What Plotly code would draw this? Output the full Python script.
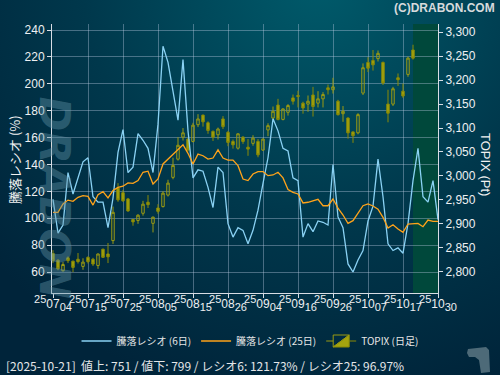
import base64
import plotly.graph_objects as go

# ---------------- data ----------------
tick_index = [0, 7, 14, 21, 28, 35, 42, 49, 56, 63, 70, 77]
tick_labels = ["250704", "250715", "250725", "250805", "250815", "250826",
               "250904", "250916", "250926", "251007", "251017", "251030"]

topix_open = [2838, 2824, 2802, 2829, 2822, 2826, 2811, 2830, 2826, 2813,
              2847, 2837, 2865, 2975, 2965, 2952, 2909, 2907, 2922, 2945,
              2901, 2933, 2936, 2960, 2997, 3035, 3081, 3077, 3072, 3107,
              3127, 3111, 3093, 3086, 3119, 3091, 3072, 3058, 3081, 3060,
              3068, 3072, 3054, 3096, 3121, 3148, 3118, 3133, 3163, 3168,
              3152, 3150, 3169, 3152, 3161, 3184, 3180, 3156, 3130, 3121,
              3092, 3090, 3173, 3237, 3241, 3245, 3237, 3150, 3150, 3205,
              3177, 3212, 3263]
topix_high = [2845, 2826, 2820, 2832, 2823, 2839, 2828, 2832, 2829, 2838,
              2848, 2860, 2936, 2985, 2971, 2954, 2910, 2920, 2948, 2960,
              2915, 2941, 2968, 2992, 3038, 3081, 3100, 3080, 3111, 3129,
              3128, 3114, 3095, 3101, 3125, 3094, 3076, 3089, 3083, 3077,
              3085, 3077, 3078, 3110, 3145, 3161, 3141, 3150, 3170, 3178,
              3155, 3168, 3186, 3177, 3175, 3191, 3205, 3159, 3146, 3122,
              3093, 3131, 3235, 3248, 3263, 3262, 3239, 3180, 3186, 3214,
              3193, 3249, 3274]
topix_low = [2818, 2803, 2800, 2818, 2799, 2817, 2804, 2817, 2812, 2806,
             2829, 2818, 2858, 2946, 2946, 2925, 2896, 2900, 2917, 2933,
             2882, 2921, 2934, 2957, 2993, 3032, 3074, 3051, 3070, 3102,
             3103, 3088, 3073, 3076, 3098, 3062, 3057, 3055, 3067, 3042,
             3063, 3039, 3052, 3083, 3117, 3116, 3116, 3126, 3149, 3143,
             3130, 3134, 3124, 3143, 3143, 3170, 3172, 3126, 3113, 3078,
             3069, 3087, 3169, 3217, 3220, 3239, 3190, 3112, 3146, 3188,
             3163, 3207, 3243]
topix_close = [2823, 2806, 2815, 2823, 2809, 2821, 2820, 2821, 2816, 2837,
               2830, 2831, 2924, 2950, 2948, 2927, 2904, 2918, 2941, 2940,
               2914, 2926, 2964, 2985, 3022, 3064, 3090, 3054, 3106, 3119,
               3113, 3095, 3081, 3098, 3103, 3070, 3065, 3088, 3072, 3056,
               3079, 3044, 3077, 3105, 3135, 3118, 3140, 3147, 3156, 3166,
               3142, 3156, 3145, 3161, 3170, 3180, 3186, 3128, 3135, 3090,
               3084, 3128, 3226, 3225, 3232, 3256, 3194, 3131, 3182, 3201,
               3167, 3246, 3246]

ratio6 = [114, 89, 95, 134, 118, 130, 142, 145, 116, 112,
          112, 93, 115, 149, 166, 134, 138, 163, 158, 152,
          134, 170, 228, 216, 196, 173, 218, 165, 130, 136,
          135, 123, 108, 138, 134, 96, 86, 93, 91, 81,
          91, 106, 126, 145, 174, 165, 152, 150, 130, 128,
          86, 96, 90, 98, 97, 95, 140, 101, 93, 66,
          60, 69, 76, 98, 109, 144, 116, 81, 76, 78,
          74, 96, 128, 152, 116, 112, 128, 99]
ratio25 = [104.4, 104.4, 110.6, 113.5, 112.6, 115.6, 116.8, 116.3, 109.8, 117.6,
           119.8, 115.1, 120.6, 123.0, 123.8, 126.3, 126.0, 128.0, 134.2, 135.0,
           125.5, 129.2, 140.4, 144.0, 147.7, 151.5, 154.7, 148.3, 140.4, 147.7,
           146.5, 144.0, 144.8, 150.9, 144.8, 143.3, 143.3, 139.1, 129.2, 128.0,
           132.9, 134.7, 134.7, 131.7, 132.2, 134.2, 130.0, 121.3, 119.3, 118.1,
           111.4, 111.9, 113.1, 114.1, 109.3, 109.3, 114.3, 107.6, 102.4, 96.2,
           98.2, 103.6, 109.3, 110.6, 109.1, 106.8, 100.7, 92.7, 95.2, 92.0,
           89.5, 95.7, 96.2, 96.2, 93.7, 98.7, 97.7, 97.7]

status_text = "[2025-10-21]  値上: 751 / 値下: 799 / レシオ6: 121.73% / レシオ25: 96.97%"

# ---------------- figure ----------------
W, H = 500, 375
L, R, T, B = 52, 62, 24, 82
PW, PH = W - L - R, H - T - B

def px(xp):
    return (xp - L) / PW

def py(yp):
    return (H - B - yp) / PH

candle_x = list(range(len(topix_open)))
ratio_x = list(range(len(ratio6)))

fig = go.Figure()
fig.add_trace(go.Scatter(
    x=ratio_x, y=ratio6, mode="lines", name="騰落レシオ (6日)",
    line=dict(color="#8ad2f4", width=1.3), yaxis="y2"))
fig.add_trace(go.Scatter(
    x=ratio_x, y=ratio25, mode="lines", name="騰落レシオ (25日)",
    line=dict(color="#ffa31a", width=1.3), yaxis="y2"))
fig.add_trace(go.Candlestick(
    x=candle_x, open=topix_open, high=topix_high, low=topix_low, close=topix_close,
    name="TOPIX (日足)", yaxis="y",
    increasing=dict(line=dict(color="#9a9a12", width=1), fillcolor="rgba(0,0,0,0)"),
    decreasing=dict(line=dict(color="#8a8a06", width=1), fillcolor="#a4a40e"),
    whiskerwidth=0))

grid = "rgba(190,205,230,0.38)"
axcol = "#d8dde4"
tickfont = dict(family="Liberation Sans, Noto Sans CJK JP", size=12, color="#eef0f2")

ticktext = ["<sup><span style='font-size:11px'>%s</span></sup>%s"
            "<sub><span style='font-size:11px'>%s</span></sub>" % (s[:2], s[2:4], s[4:])
            for s in tick_labels]

svg = ("<svg xmlns='http://www.w3.org/2000/svg' width='500' height='375' viewBox='0 0 500 375'>"
       "<defs><radialGradient id='g' cx='320' cy='-20' r='430' gradientUnits='userSpaceOnUse'>"
       "<stop offset='0' stop-color='#005b6b'/><stop offset='0.55' stop-color='#00384c'/>"
       "<stop offset='1' stop-color='#00243a'/></radialGradient></defs>"
       "<rect width='500' height='375' fill='url(#g)'/></svg>")
bg_src = "data:image/svg+xml;base64," + base64.b64encode(svg.encode()).decode()

# small logo silhouette (bottom right), pixel outline converted to paper coords
logo_px = [(468, 349), (486, 347), (489, 350), (490, 372), (481, 373),
           (479, 360), (475, 357), (469, 357), (467, 353)]
logo_path = "M " + " L ".join("%.4f,%.4f" % (px(a), py(b)) for a, b in logo_px) + " Z"

fig.update_layout(
    width=W, height=H,
    margin=dict(l=L, r=R, t=T, b=B, pad=0, autoexpand=False),
    paper_bgcolor="#00303f",
    plot_bgcolor="#19335f",
    font=dict(family="Liberation Sans, Noto Sans CJK JP", color="#eef0f2"),
    showlegend=True,
    legend=dict(orientation="h", x=0.513, xanchor="center", y=py(341), yanchor="middle",
                font=dict(family="Noto Sans CJK JP", size=10, color="#e6e6e6"),
                bgcolor="rgba(0,0,0,0)", itemwidth=30),
    xaxis=dict(range=[-0.2, 77.0], tickmode="array", tickvals=tick_index, ticktext=ticktext,
               tickangle=0, showgrid=True, gridcolor=grid, gridwidth=1, automargin=False,
               ticks="outside", ticklen=4, tickcolor=axcol, showline=True, linecolor=axcol,
               zeroline=False, rangeslider=dict(visible=False), ticklabelstandoff=-4,
               tickfont=dict(family="Liberation Sans", size=12, color="#eef0f2")),
    yaxis=dict(range=[2755.5, 3317.3], side="right", dtick=50, tick0=0, tickformat=",",
               showgrid=False, zeroline=False, ticks="outside", ticklen=4, tickcolor=axcol,
               showline=True, linecolor=axcol, tickfont=tickfont, automargin=False),
    yaxis2=dict(range=[44.4, 244.5], side="left", overlaying="y", dtick=20, tick0=0,
                showgrid=True, gridcolor=grid, gridwidth=1, zeroline=False,
                ticks="outside", ticklen=4, tickcolor=axcol, showline=True, linecolor=axcol,
                tickfont=tickfont, automargin=False),
    shapes=[dict(type="rect", xref="x", yref="paper", x0=72, x1=77, y0=0, y1=1,
                 fillcolor="#00483b", line=dict(width=0), layer="below"),
            dict(type="path", xref="paper", yref="paper", path=logo_path,
                 fillcolor="#4d6a78", line=dict(width=0), layer="above")],
    images=[dict(source=bg_src, xref="paper", yref="paper", x=px(0), y=py(0),
                 sizex=W / PW, sizey=H / PH, xanchor="left", yanchor="top",
                 sizing="stretch", layer="below")],
    annotations=[
        dict(text="DRABON", xref="paper", yref="paper", x=px(28), y=py(198),
             showarrow=False, textangle=90,
             font=dict(family="DejaVu Sans", size=42, color="rgba(100,150,170,0.42)",
                       weight="bold", style="italic")),
        dict(text="<b>(C)DRABON.COM</b>", xref="paper", yref="paper", x=px(497), y=py(8),
             xanchor="right", yanchor="middle", showarrow=False,
             font=dict(family="Liberation Sans", size=12, color="#d6dadc")),
        dict(text="騰落レシオ (%)", xref="paper", yref="paper", x=px(14), y=py(160),
             xanchor="center", yanchor="middle", showarrow=False, textangle=-90,
             font=dict(family="Noto Sans CJK JP", size=13, color="#f2f2f2")),
        dict(text="TOPIX (Pt)", xref="paper", yref="paper", x=px(486), y=py(164),
             xanchor="center", yanchor="middle", showarrow=False, textangle=90,
             font=dict(family="Liberation Sans", size=13, color="#f2f2f2")),
        dict(text=status_text, xref="paper", yref="paper", x=px(4), y=py(365),
             xanchor="left", yanchor="middle", showarrow=False,
             font=dict(family="Noto Sans CJK JP", size=12, color="#e4e6e8")),
    ],
)

fig.write_html("out.html", config={"displayModeBar": False, "staticPlot": True},
               post_script="document.body.style.margin='0';document.body.style.padding='0';"
                           "document.body.style.overflow='hidden';")
